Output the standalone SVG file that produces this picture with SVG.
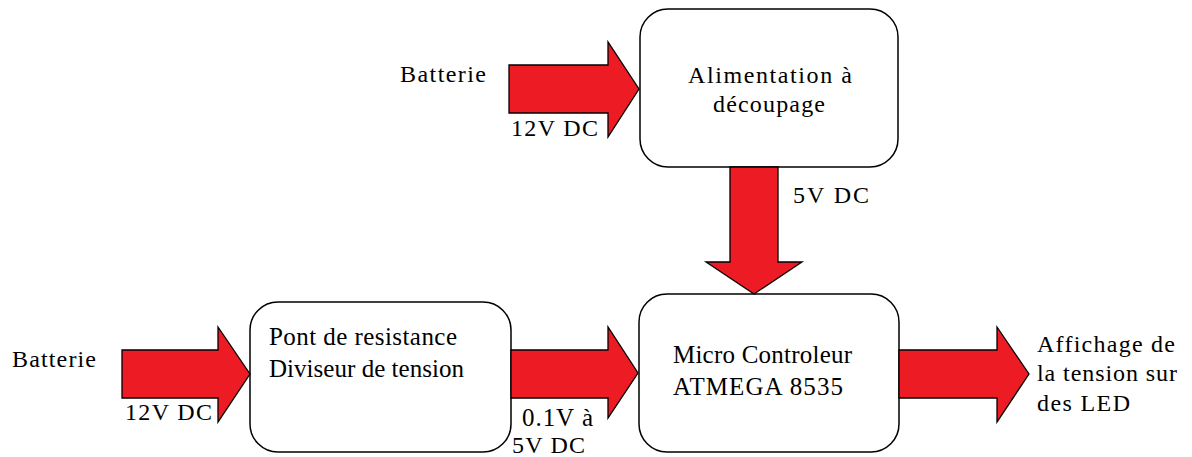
<svg xmlns="http://www.w3.org/2000/svg" width="1192" height="457" viewBox="0 0 1192 457" font-family="'Liberation Serif', 'DejaVu Serif', serif">
<style>
.box{fill:#fff;stroke:#000;stroke-width:1.5}
.arr{fill:#ED1C24;stroke:#000;stroke-width:1.3;stroke-linejoin:miter}
text{font-family:'Liberation Serif','DejaVu Serif',serif;font-size:24px;fill:#000}
.b{font-size:25px}
</style>
<rect width="1192" height="457" fill="#fff"/>
<g id="node-alim">
<rect class="box" x="640" y="9" width="258" height="158" rx="28" ry="28"/>
<text x="688" y="83" textLength="164" lengthAdjust="spacing">Alimentation à</text>
<text x="713" y="112" textLength="112" lengthAdjust="spacing">découpage</text>
</g>
<g id="node-pont">
<rect class="box" x="250" y="302" width="261" height="150" rx="28" ry="28"/>
<text class="b" x="269" y="345" textLength="188" lengthAdjust="spacing">Pont de resistance</text>
<text class="b" x="269" y="377" textLength="195" lengthAdjust="spacing">Diviseur de tension</text>
</g>
<g id="node-micro">
<rect class="box" x="639" y="294" width="260" height="158" rx="28" ry="28"/>
<text class="b" x="673" y="363" textLength="179" lengthAdjust="spacing">Micro Controleur</text>
<text class="b" x="673" y="395" textLength="170" lengthAdjust="spacing">ATMEGA 8535</text>
</g>
<g id="node-batterie1">
<text x="400" y="82" textLength="86" lengthAdjust="spacing">Batterie</text>
</g>
<g id="node-batterie2">
<text x="12" y="367" textLength="84" lengthAdjust="spacing">Batterie</text>
</g>
<g id="node-affichage">
<text x="1037" y="352" textLength="138" lengthAdjust="spacing">Affichage de</text>
<text x="1037" y="381" textLength="140" lengthAdjust="spacing">la tension sur</text>
<text x="1037" y="411" textLength="93" lengthAdjust="spacing">des LED</text>
</g>
<g id="connectors">
<path class="arr" d="M509,65 H608 V42 L639,89 L608,137 V113 H509 Z"/>
<path class="arr" d="M730,167 V262 H706 L754,294 L802,262 H778 V167 Z"/>
<path class="arr" d="M122,350 H218 V327 L250,374 L218,422 V398 H122 Z"/>
<path class="arr" d="M511,350 H608 V327 L638,373 L608,418 V398 H511 Z"/>
<path class="arr" d="M899,350 H997 V327 L1029,374 L997,422 V398 H899 Z"/>
<text x="511" y="136" textLength="87" lengthAdjust="spacing">12V DC</text>
<text x="125" y="420" textLength="87" lengthAdjust="spacing">12V DC</text>
<text x="793" y="203" textLength="76" lengthAdjust="spacing">5V DC</text>
<text class="b" x="522" y="426" textLength="71" lengthAdjust="spacing">0.1V à</text>
<text x="512" y="453" textLength="73" lengthAdjust="spacing">5V DC</text>
</g>
</svg>
